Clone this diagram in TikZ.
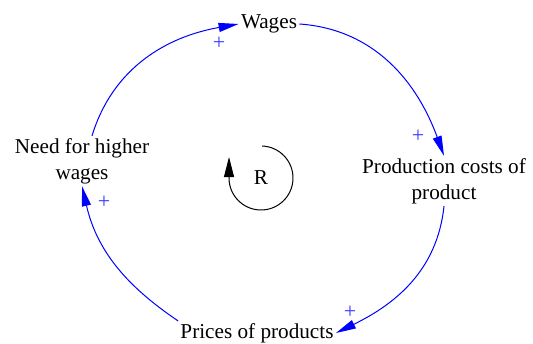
\documentclass[tikz,border=0pt]{standalone}
\usepackage{fontspec}
\setmainfont{Liberation Serif}
\usetikzlibrary{arrows.meta}
\definecolor{lblue}{HTML}{0000FF}
\definecolor{pblue}{HTML}{3A3AFF}
\tikzset{
  var/.style={align=center,font=\fontsize{10.6}{13}\selectfont,inner sep=1pt},
  link/.style={-{Triangle[length=10pt,width=4.5pt]},line width=0.5pt,draw=lblue},
  pol/.style={text=pblue,font=\fontsize{11}{11}\selectfont,inner sep=0pt},
  loopc/.style={-{Triangle[length=10pt,width=5pt]},line width=0.5pt,draw=black},
}
\begin{document}
\begin{tikzpicture}[x=0.5pt,y=0.5pt]
  \useasboundingbox (0,0) rectangle (533,343);
  \node[var] (wages) at (269,319) {Wages};
  \node[var] (need) at (82,182) {Need for higher\\wages};
  \node[var] (prodcost) at (444,162) {Production costs of\\product};
  \node[var] (prices) at (257,10) {Prices of products};
  \node[var] (rlbl) at (261,165) {R};
  \draw[link] ([xshift=5pt]need.north) to[out=73,in=190] (wages.west);
  \draw[link] (wages.east) to[out=-4,in=110] (prodcost.north);
  \draw[link] (prodcost.south) to[out=-96,in=26] (prices.east);
  \draw[link] (prices.north west) to[out=146,in=-77] (need.south);
  \node[pol] (p1) at (219,300) {+};
  \node[pol] (p2) at (418,207) {+};
  \node[pol] (p3) at (350,31) {+};
  \node[pol] (p4) at (104,141) {+};
  \draw[loopc] ([shift={(88:16pt)}]rlbl.center) arc[start angle=88,end angle=-180,radius=16pt] -- ++(0,21);
\end{tikzpicture}
\end{document}
